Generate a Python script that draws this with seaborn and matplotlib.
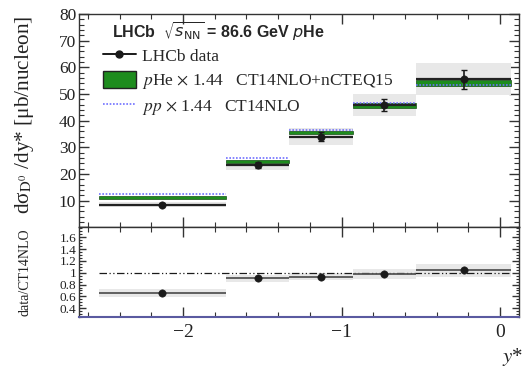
import numpy as np
import pandas as pd
import matplotlib
matplotlib.use("Agg")
import matplotlib.pyplot as plt
import seaborn as sns
from matplotlib.lines import Line2D
from matplotlib.patches import Patch
from matplotlib.ticker import MultipleLocator, FuncFormatter

# ---- data ----
bin_edges = [-2.53, -1.73, -1.33, -0.93, -0.53, 0.07]
y_centers = [-2.13, -1.53, -1.13, -0.73, -0.23]
xsec = [8.4, 23.4, 34.0, 45.9, 55.5]
stat = [0.5, 1.2, 1.6, 2.4, 3.6]
syst = [1.0, 1.8, 3.2, 4.2, 6.0]
pHe = [11.2, 24.6, 35.5, 45.6, 54.2]
pHe_unc = [0.5, 0.6, 0.7, 0.9, 1.1]
pp = [12.6, 26.0, 36.5, 46.7, 53.3]
ratio = [0.66, 0.91, 0.93, 0.98, 1.04]
ratio_stat = [0.02, 0.02, 0.02, 0.02, 0.03]
ratio_syst = [0.07, 0.06, 0.06, 0.08, 0.11]

sns.set_theme(style="ticks")
plt.rcParams["font.family"] = ["Liberation Serif", "DejaVu Serif"]
plt.rcParams["mathtext.fontset"] = "stix"

lo = np.array(bin_edges[:-1])
hi = np.array(bin_edges[1:])
w = hi - lo
df = pd.DataFrame({"y": y_centers, "xsec": xsec, "ratio": ratio})

fig = plt.figure(figsize=(5.27, 3.70), dpi=100)
ax1 = fig.add_axes([0.150, 0.386, 0.835, 0.576])
ax2 = fig.add_axes([0.150, 0.143, 0.835, 0.243], sharex=ax1)

# ---- top panel ----
ax1.bar(lo, 2 * np.array(syst), bottom=np.array(xsec) - np.array(syst), width=w,
        align="edge", color="#e8e8e8", linewidth=0, zorder=1)
ax1.bar(lo, 2 * np.array(pHe_unc), bottom=np.array(pHe) - np.array(pHe_unc), width=w,
        align="edge", color="#1e8c1e", edgecolor="#145014", linewidth=0.5, zorder=2)
ax1.hlines(pp, lo, hi, colors="#7070ff", linestyles=(0, (1, 1)), linewidth=1.2, zorder=3)
ax1.hlines(xsec, lo, hi, colors="#222222", linewidth=1.6, zorder=4)
ax1.errorbar(y_centers, xsec, yerr=stat, fmt="none", ecolor="k", elinewidth=1.2,
             capsize=2, zorder=5)
sns.scatterplot(data=df, x="y", y="xsec", ax=ax1, color="k", s=28, zorder=6,
                edgecolor="k", legend=False)

ax1.set_ylim(0, 80)
ax1.set_xlim(-2.656, 0.12)
ax1.yaxis.set_major_locator(MultipleLocator(10))
ax1.yaxis.set_minor_locator(MultipleLocator(2))
ax1.yaxis.set_major_formatter(FuncFormatter(lambda v, p: "" if abs(v) < 1e-9 else "%g" % v))
ax1.xaxis.set_major_locator(MultipleLocator(1))
ax1.xaxis.set_minor_locator(MultipleLocator(0.2))
ax1.tick_params(axis="both", which="both", direction="in", top=True, right=True,
                labelbottom=False, colors="#333333")
ax1.tick_params(axis="both", which="major", length=7, width=1, labelsize=12.5,
                labelcolor="#222222", pad=2)
ax1.tick_params(axis="both", which="minor", length=3.5, width=0.8)
ax1.set_xlabel("")
ax1.set_ylabel("")
for s in ax1.spines.values():
    s.set_color("#333333")
    s.set_linewidth(1.0)

handles = [
    Line2D([], [], color="k", marker="o", markersize=5, linewidth=1.4),
    Patch(facecolor="#1e8c1e", edgecolor="#222222", linewidth=1.0),
    Line2D([], [], color="#7070ff", linestyle=(0, (1, 1)), linewidth=1.2),
]
labels = [
    "LHCb data",
    r"$p$He $\times$ 1.44   CT14NLO+nCTEQ15",
    r"$pp$ $\times$ 1.44   CT14NLO",
]
ax1.legend(handles, labels, loc="upper left", bbox_to_anchor=(0.050, 0.855),
           frameon=False, fontsize=12.5, handlelength=1.9, handleheight=1.15,
           handletextpad=0.35, labelspacing=0.32, borderpad=0.1, borderaxespad=0.0)
ax1.text(0.075, 0.915, r"LHCb  $\sqrt{s_{\mathrm{NN}}}$ = 86.6 GeV $p$He",
         transform=ax1.transAxes, fontsize=11.5, fontweight="bold",
         family="Liberation Sans", math_fontfamily="dejavusans", va="center", ha="left")

# ---- ratio panel ----
ax2.bar(lo, 2 * np.array(ratio_syst), bottom=np.array(ratio) - np.array(ratio_syst),
        width=w, align="edge", color="#e8e8e8", linewidth=0, zorder=1)
ax2.hlines(1.0, bin_edges[0], bin_edges[-1], colors="k", linestyles=(0, (6, 2, 1, 2, 1, 2)),
           linewidth=0.9, zorder=2)
ax2.hlines(ratio, lo, hi, colors="#555555", linewidth=1.3, zorder=3)
ax2.errorbar(y_centers, ratio, yerr=ratio_stat, fmt="none", ecolor="k", elinewidth=1.0,
             zorder=4)
sns.scatterplot(data=df, x="y", y="ratio", ax=ax2, color="k", s=28, zorder=5,
                edgecolor="k", legend=False)
ax2.set_ylim(0.25, 1.77)
ax2.yaxis.set_major_locator(MultipleLocator(0.2))
ax2.yaxis.set_minor_locator(MultipleLocator(0.05))
ax2.yaxis.set_major_formatter(FuncFormatter(lambda v, p: "%g" % round(v, 2)))
ax2.tick_params(axis="both", which="both", direction="in", top=True, right=True,
                colors="#333333")
ax2.tick_params(axis="y", which="major", length=5, width=1, labelsize=9.5,
                labelcolor="#222222", pad=2)
ax2.tick_params(axis="y", which="minor", length=2.5, width=0.8)
ax2.tick_params(axis="x", which="major", length=7, width=1, labelsize=14,
                labelcolor="#222222", pad=5)
ax2.tick_params(axis="x", which="minor", length=3.5, width=0.8)
ax2.set_xlabel("")
ax2.set_ylabel("")
for s in ax2.spines.values():
    s.set_color("#333333")
    s.set_linewidth(1.0)
ax2.spines["bottom"].set_color("#5a5aa0")
ax2.spines["bottom"].set_linewidth(1.5)
ax2.xaxis.set_major_formatter(FuncFormatter(lambda v, p: ("%g" % v).replace("-", "\u2212")))

# ---- axis titles ----
fig.text(0.046, 0.690, "d\u03c3$_{\\mathrm{D^0}}$ /dy* [\u03bcb/nucleon]", rotation=90,
         ha="center", va="center", fontsize=15.3, color="#222222")
fig.text(0.048, 0.265, "data/CT14NLO", rotation=90, ha="center", va="center",
         fontsize=10, color="#222222")
fig.text(0.992, 0.035, "$y$*", ha="right", va="center", fontsize=15, color="#222222")

fig.savefig("out.png", dpi=100)
